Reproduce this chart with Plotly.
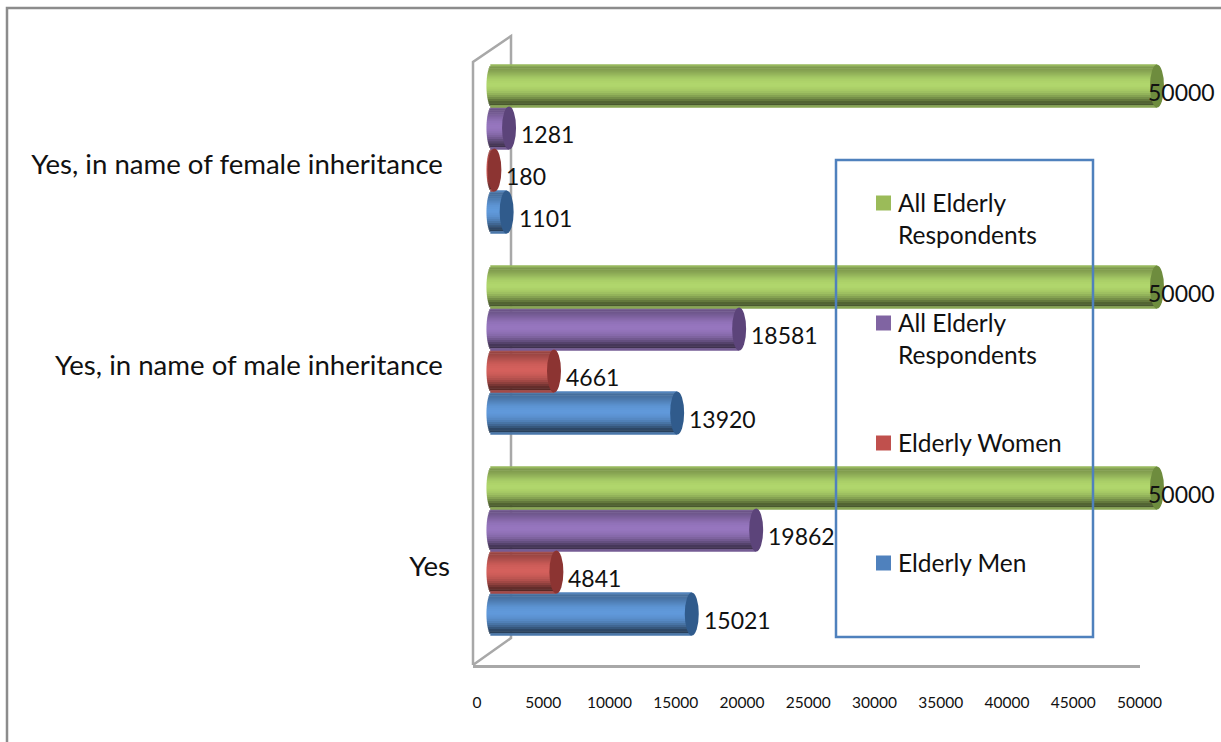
import numpy as np
import plotly.graph_objects as go

W, H = 1221, 742
FONT = "Lato"
TXT = "#111111"

categories = ["Yes", "Yes, in name of male inheritance", "Yes, in name of female inheritance"]
elderly_men = [15021, 13920, 1101]
elderly_women = [4841, 4661, 180]
all_respondents_a = [19862, 18581, 1281]
all_respondents_b = [50000, 50000, 50000]
tick_values = [0, 5000, 10000, 15000, 20000, 25000, 30000, 35000, 40000, 45000, 50000]

series = [
    ("Elderly Men", elderly_men, (96, 153, 218), (48, 91, 140), "#4f81bd"),
    ("Elderly Women", elderly_women, (212, 96, 92), (140, 52, 50), "#c0504d"),
    ("All Elderly<br>Respondents", all_respondents_a, (150, 118, 190), (92, 68, 122), "#8064a2"),
    ("All Elderly<br>Respondents", all_respondents_b, (176, 214, 108), (110, 140, 62), "#9bbb59"),
]

# cylinder shading, top edge to bottom edge
profile = [0.86, 0.72, 0.74, 0.78, 0.83, 0.88, 0.93, 0.97, 0.99, 1.0, 1.0, 0.98, 0.95,
           0.90, 0.84, 0.76, 0.67, 0.57, 0.47, 0.42, 0.78]

AX_SCALE = 13.25 / 1000   # px per unit of the tick axis
BAR_SCALE = 13.3 / 1000   # px per unit of the bars (drawn shifted, as in the 3-D view)
ZERO_TICK = 477
ZERO_BAR = 492
AX_L, AX_R = 473, 1140
AX_BOTTOM = 665
CAT_PX = 201
CAT0_Y = 566
BAR_PX = 43
CAP_HALF = 7
NEAR_HALF = 5.5
SLOT_PX = 42

def px(v):
    return v / W

def py(v):
    return 1 - v / H

y_low = -(AX_BOTTOM - CAT0_Y) / CAT_PX
y_high = y_low + AX_BOTTOM / CAT_PX

fig = go.Figure()
shapes = []
annotations = []
n = len(profile)
cat_idx = np.arange(len(categories))

# keeps the tick axis alive: it carries the scale, the bars use the shifted copy
fig.add_trace(go.Scatter(x=tick_values, y=[None] * len(tick_values), xaxis="x", yaxis="y",
                         mode="markers", showlegend=False, hoverinfo="skip"))

for s_i, (name, values, base, cap, flat) in enumerate(series):
    vals = np.array(values)
    centre_px = (CAT0_Y - 614) + s_i * SLOT_PX
    strip_px = BAR_PX / n
    ys, xs, offs, cols, bases = [], [], [], [], []
    for k, f in enumerate(profile):
        c = [min(255, int(b * f)) for b in base]
        top = centre_px + BAR_PX / 2 - k * strip_px
        t = (k + 0.5) / n * 2 - 1
        start = -NEAR_HALF / BAR_SCALE * np.sqrt(1 - t * t)
        for ci, v in zip(cat_idx, vals):
            ys.append(int(ci))
            xs.append(float(v - start))
            bases.append(float(start))
            offs.append((top - strip_px - 0.25) / CAT_PX)
            cols.append(f"rgb({c[0]},{c[1]},{c[2]})")
    fig.add_trace(go.Bar(
        orientation="h", x=xs, y=ys, base=bases, xaxis="x2", yaxis="y",
        offset=offs, width=(strip_px + 0.5) / CAT_PX,
        marker=dict(color=cols, line=dict(width=0)),
        name=name.replace("<br>", " "), showlegend=False, hoverinfo="skip",
    ))
    half_u = CAP_HALF / BAR_SCALE
    for ci, v in zip(cat_idx, vals):
        y0 = ci + (centre_px - BAR_PX / 2) / CAT_PX
        y1 = ci + (centre_px + BAR_PX / 2) / CAT_PX
        shapes.append(dict(type="circle", xref="x2", yref="y", x0=v - half_u, x1=v + half_u,
                           y0=y0, y1=y1, fillcolor=f"rgb({cap[0]},{cap[1]},{cap[2]})",
                           line=dict(width=0), layer="above"))
        label_shift = -11 if v == 50000 else 10
        annotations.append(dict(x=int(v), y=ci + centre_px / CAT_PX, xref="x2", yref="y",
                                text=str(int(v)), showarrow=False, xanchor="left", yanchor="middle",
                                xshift=label_shift, yshift=-6,
                                font=dict(family=FONT, size=23, color=TXT)))

# legend: swatch and label per series, top to bottom, as a free-standing box
legend_top = 203
legend_step = 120
for i, (name, values, base, cap, flat) in enumerate(reversed(series)):
    yc = legend_top + i * legend_step
    shapes.append(dict(type="rect", xref="paper", yref="paper",
                       x0=px(876), x1=px(891), y0=py(yc + 7.5), y1=py(yc - 7.5),
                       fillcolor=flat, line=dict(width=0), layer="above"))
    annotations.append(dict(x=px(896), y=py(yc - 17), xref="paper", yref="paper",
                            text=name, showarrow=False, xanchor="left", yanchor="top",
                            align="left", font=dict(family=FONT, size=24.5, color=TXT)))

grey = "#a8a8a8"
wall = f"M {px(473)} {py(665)} L {px(473)} {py(62)} L {px(511)} {py(36)} L {px(511)} {py(638)} L {px(473)} {py(665)}"
shapes.append(dict(type="path", xref="paper", yref="paper", path=wall,
                   line=dict(color=grey, width=2.5), layer="below"))
frame = f"M {px(7)} {py(742)} L {px(7)} {py(8)} L {px(1221)} {py(8)}"
shapes.append(dict(type="path", xref="paper", yref="paper", path=frame,
                   line=dict(color="#8c8c8c", width=2.5), layer="below"))
shapes.append(dict(type="rect", xref="paper", yref="paper",
                   x0=px(836), x1=px(1093), y0=py(637), y1=py(160),
                   line=dict(color="#4f81bd", width=2.5), layer="above"))

fig.update_layout(
    width=W, height=H, margin=dict(l=0, r=0, t=0, b=0, autoexpand=False),
    paper_bgcolor="white", plot_bgcolor="rgba(0,0,0,0)",
    barmode="overlay", font=dict(family=FONT, color=TXT),
    shapes=shapes, annotations=annotations,
    showlegend=False,
    xaxis=dict(domain=[px(AX_L), px(AX_R)], anchor="y",
               range=[(AX_L - ZERO_TICK) / AX_SCALE, (AX_R - ZERO_TICK) / AX_SCALE],
               tickmode="array", tickvals=tick_values, ticktext=[str(t) for t in tick_values],
               tickangle=0, ticks="", ticklabelstandoff=22, showgrid=False, zeroline=False,
               showline=True, linecolor=grey, linewidth=2.5,
               tickfont=dict(family=FONT, size=15.5, color=TXT)),
    xaxis2=dict(domain=[px(AX_L), 1], anchor="y", visible=False,
                range=[(AX_L - ZERO_BAR) / BAR_SCALE, (W - ZERO_BAR) / BAR_SCALE],
                showgrid=False, zeroline=False),
    yaxis=dict(domain=[py(AX_BOTTOM), 1], anchor="free", position=px(450),
               range=[y_low, y_high], tickmode="array", tickvals=cat_idx.tolist(),
               ticktext=[categories[0], categories[1] + "\u00a0", categories[2] + "\u00a0"],
               ticks="", showgrid=False, zeroline=False, showline=False,
               tickfont=dict(family=FONT, size=27.6, color=TXT)),
)

fig.write_html("out.html", config=dict(displayModeBar=False),
               post_script="document.body.style.margin='0';")
